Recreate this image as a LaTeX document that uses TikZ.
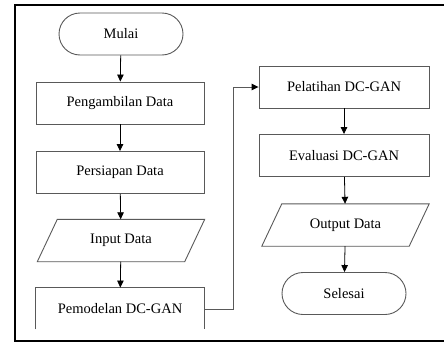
\documentclass[tikz,border=0pt]{standalone}
\usepackage{fontspec}
\setmainfont{Liberation Serif}
\usetikzlibrary{arrows.meta}
\begin{document}
\begin{tikzpicture}[x=1pt,y=1pt,
  box/.style={draw=black!65,line width=0.9pt,minimum width=168pt,minimum height=42pt,inner sep=0pt,font=\fontsize{14.5}{16}\selectfont},
  term/.style={box,rounded corners=21pt,minimum width=124pt},
  iobox/.style={minimum width=167pt,minimum height=42pt,inner sep=0pt,font=\fontsize{14.5}{16}\selectfont},
  para/.style={draw=black!65,line width=0.9pt},
  arr/.style={draw=black,line width=0.8pt,-{Triangle[length=7pt,width=6.5pt]}},
  conn/.style={draw=black!65,line width=0.9pt,-{Triangle[length=7pt,width=6.5pt,color=black]}}]
\useasboundingbox (0,0) rectangle (444,-343);
\draw[line width=2pt] (460,-5) -- (15,-5) -- (15,-341) -- (460,-341);
\node[term] (mulai) at (121,-34) {Mulai};
\node[box] (peng) at (120,-103) {Pengambilan Data};
\node[box] (pers) at (120,-172.5) {Persiapan Data};
\node[iobox] (input) at (121,-240.5) {Input Data};
\draw[para] ([xshift=20pt]input.north west) -- (input.north east) -- ([xshift=-20pt]input.south east) -- (input.south west) -- cycle;
\node[box,draw=none] (pemo) at (120,-309) {Pemodelan DC-GAN};
\draw[para] ([yshift=1pt]pemo.south west) -- (pemo.north west) -- (pemo.north east) -- ([yshift=1pt]pemo.south east);
\node[box,minimum width=170pt] (pel) at (344,-87) {Pelatihan DC-GAN};
\node[box,minimum width=170pt] (eva) at (344,-155.5) {Evaluasi DC-GAN};
\node[iobox] (out) at (345.5,-225) {Output Data};
\draw[para] ([xshift=20pt]out.north west) -- (out.north east) -- ([xshift=-20pt]out.south east) -- (out.south west) -- cycle;
\node[term] (sel) at (344,-293.5) {Selesai};
\draw[arr] (mulai) -- (peng);
\draw[arr] (peng) -- (pers);
\draw[arr] (pers) -- (input);
\draw[arr] (input) -- (pemo);
\draw[conn] (pemo.east) -- (233,-309) -- (233,-87) -- (pel.west);
\draw[arr] (pel) -- (eva);
\draw[arr] (eva) -- (out);
\draw[arr] (out) -- (sel);
\end{tikzpicture}
\end{document}
